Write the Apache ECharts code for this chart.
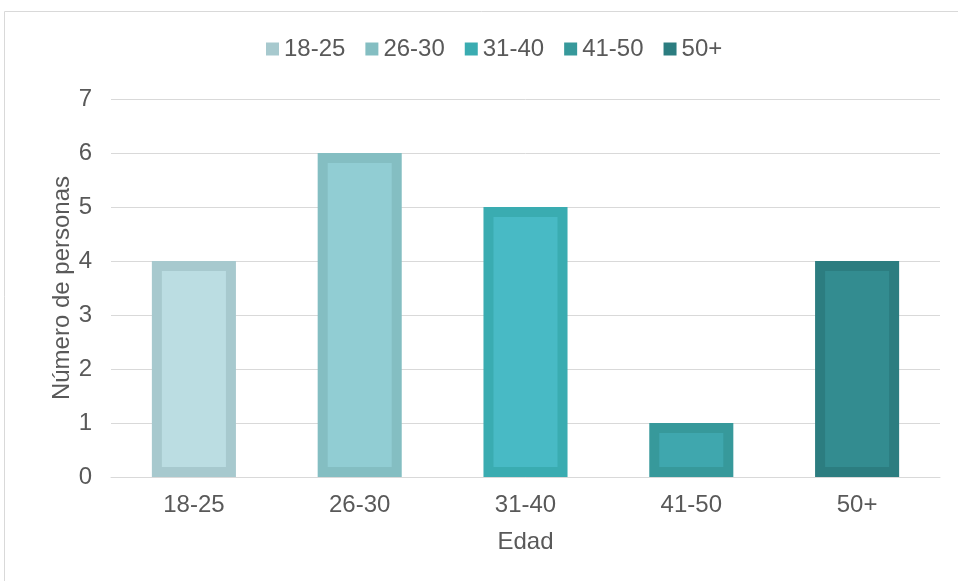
<!DOCTYPE html>
<html>
<head>
<meta charset="utf-8">
<script src="https://cdn.jsdelivr.net/npm/echarts@6/dist/echarts.min.js"></script>
<style>
  html, body { margin: 0; padding: 0; background: #fff; }
  #chart { width: 958px; height: 581px; }
</style>
</head>
<body>
<div id="chart"></div>
<script>
// Age groups and number of people in each
const categories = ['18-25', '26-30', '31-40', '41-50', '50+'];
const values = [4, 6, 5, 1, 4];
const yTicks = [0, 1, 2, 3, 4, 5, 6, 7];

// Outer (border) and inner (fill) colour for each group
const borderColors = ['#A7C9CE', '#84BEC2', '#3AACB1', '#37999B', '#2C7D80'];
const fillColors = ['#BBDDE2', '#91CDD3', '#48BAC5', '#3FA7AE', '#338C90'];

const BORDER = 10;
const FONT = 24;

function makeRender(idx) {
  return function (params, api) {
    const cat = api.value(0);
    const val = api.value(1);
    const top = api.coord([cat, val]);
    const base = api.coord([cat, 0]);
    const w = api.size([1, 0])[0] * 0.507;
    const x = top[0] - w / 2;
    const h = base[1] - top[1];
    const inner = Math.max(0, h - 2 * BORDER);
    return {
      type: 'group',
      children: [
        { type: 'rect', shape: { x: x, y: top[1], width: w, height: h },
          style: { fill: borderColors[idx] } },
        { type: 'rect', shape: { x: x + BORDER, y: top[1] + BORDER, width: w - 2 * BORDER, height: inner },
          style: { fill: fillColors[idx] } }
      ]
    };
  };
}

const series = categories.map(function (name, i) {
  return {
    type: 'custom',
    name: name,
    renderItem: makeRender(i),
    itemStyle: { color: borderColors[i] },
    encode: { x: 0, y: 1 },
    data: [[i, values[i]]]
  };
});

const chart = echarts.init(document.getElementById('chart'));
chart.setOption({
  animation: false,
  textStyle: { fontFamily: 'Liberation Sans, Arial, sans-serif' },
  graphic: [{
    type: 'rect', silent: true,
    shape: { x: 4.5, y: 11.5, width: 2000, height: 2000 },
    style: { fill: 'none', stroke: '#D9D9D9', lineWidth: 1 }
  }],
  legend: {
    top: 32,
    left: 261,
    icon: 'rect',
    itemWidth: 13,
    itemHeight: 13,
    itemGap: 20,
    textStyle: { fontSize: FONT, color: '#595959' },
    data: categories
  },
  grid: { left: 111, right: 18, top: 99, bottom: 104, containLabel: false },
  xAxis: {
    type: 'category',
    data: categories,
    name: 'Edad',
    nameLocation: 'middle',
    nameGap: 53,
    nameMoveOverlap: false,
    nameTextStyle: { fontSize: FONT, color: '#595959' },
    axisLine: { lineStyle: { color: '#D9D9D9', width: 1 } },
    axisTick: { show: false },
    axisLabel: { fontSize: FONT, color: '#595959', margin: 16 }
  },
  yAxis: {
    type: 'value',
    min: yTicks[0],
    max: yTicks[yTicks.length - 1],
    interval: 1,
    name: 'Número de personas',
    nameLocation: 'middle',
    nameGap: 37,
    nameMoveOverlap: false,
    nameTextStyle: { fontSize: FONT, color: '#595959' },
    axisLine: { show: false },
    axisTick: { show: false },
    axisLabel: { fontSize: FONT, color: '#595959', margin: 19 },
    splitLine: { lineStyle: { color: '#D9D9D9', width: 1 } }
  },
  series: series
});
</script>
</body>
</html>
